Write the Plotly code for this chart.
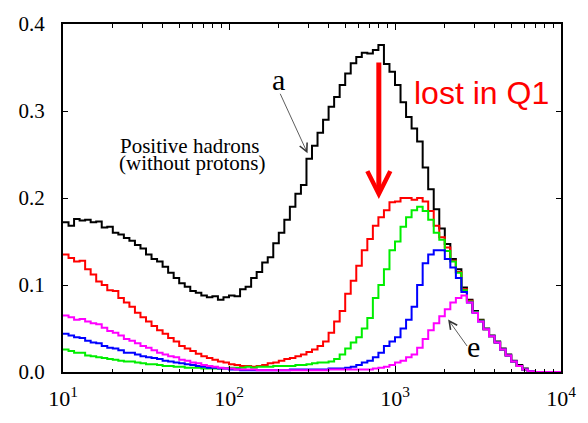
import numpy as np
import plotly.graph_objects as go

# ---------------- data ----------------
# 30 logarithmic bins per decade from 10^1 to 10^4
bin_edges = 10 ** np.linspace(1, 4, 91)

curve_a_black = [
    0.172, 0.168, 0.176, 0.174, 0.175, 0.172, 0.173, 0.166, 0.167, 0.160,
    0.158, 0.154, 0.151, 0.146, 0.142, 0.135, 0.130, 0.127, 0.121, 0.114,
    0.108, 0.102, 0.098, 0.093, 0.091, 0.088, 0.086, 0.087, 0.083, 0.086,
    0.088, 0.087, 0.095, 0.098, 0.108, 0.115, 0.126, 0.132, 0.148, 0.160,
    0.175, 0.190, 0.205, 0.215, 0.245, 0.260, 0.275, 0.290, 0.305, 0.316,
    0.330, 0.343, 0.355, 0.362, 0.367, 0.366, 0.370, 0.376, 0.354, 0.345,
    0.330, 0.310, 0.293, 0.280, 0.265, 0.235, 0.210, 0.187, 0.165, 0.147,
    0.130, 0.118, 0.097, 0.083, 0.070, 0.060, 0.050, 0.042, 0.035, 0.027,
    0.020, 0.013, 0.008, 0.004, 0.001, 0.0, 0.0, 0.0, 0.0, 0.0,
]
curve_b_red = [
    0.135, 0.131, 0.127, 0.128, 0.118, 0.112, 0.104, 0.100, 0.094, 0.093,
    0.085, 0.080, 0.075, 0.068, 0.063, 0.058, 0.053, 0.048, 0.044, 0.039,
    0.035, 0.030, 0.027, 0.024, 0.021, 0.018, 0.016, 0.014, 0.012, 0.011,
    0.009, 0.008, 0.007, 0.007, 0.006, 0.007, 0.008, 0.010, 0.011, 0.013,
    0.015, 0.016, 0.018, 0.020, 0.023, 0.026, 0.030, 0.035, 0.045, 0.058,
    0.070, 0.090, 0.105, 0.122, 0.140, 0.153, 0.168, 0.178, 0.186, 0.195,
    0.196, 0.200, 0.200, 0.198, 0.200, 0.196, 0.185, 0.168, 0.155, 0.143,
    0.128, 0.115, 0.095, 0.082, 0.069, 0.059, 0.049, 0.041, 0.034, 0.026,
    0.019, 0.012, 0.007, 0.003, 0.001, 0.0, 0.0, 0.0, 0.0, 0.0,
]
curve_c_green = [
    0.026, 0.024, 0.022, 0.022, 0.019, 0.018, 0.017, 0.016, 0.015, 0.014,
    0.013, 0.012, 0.012, 0.011, 0.010, 0.009, 0.009, 0.008, 0.007, 0.007,
    0.006, 0.006, 0.005, 0.005, 0.005, 0.004, 0.004, 0.004, 0.004, 0.004,
    0.005, 0.005, 0.005, 0.006, 0.005, 0.006, 0.006, 0.006, 0.007, 0.007,
    0.007, 0.007, 0.008, 0.008, 0.009, 0.010, 0.011, 0.011, 0.012, 0.015,
    0.020, 0.027, 0.034, 0.040, 0.050, 0.062, 0.085, 0.100, 0.118, 0.140,
    0.150, 0.167, 0.178, 0.186, 0.190, 0.185, 0.175, 0.160, 0.152, 0.139,
    0.127, 0.114, 0.094, 0.081, 0.069, 0.059, 0.049, 0.041, 0.034, 0.026,
    0.019, 0.012, 0.007, 0.003, 0.001, 0.0, 0.0, 0.0, 0.0, 0.0,
]
curve_d_blue = [
    0.044, 0.042, 0.040, 0.039, 0.036, 0.034, 0.033, 0.030, 0.028, 0.027,
    0.025, 0.022, 0.022, 0.020, 0.018, 0.017, 0.016, 0.015, 0.013, 0.012,
    0.011, 0.010, 0.009, 0.008, 0.007, 0.006, 0.005, 0.005, 0.004, 0.004,
    0.003, 0.003, 0.002, 0.002, 0.002, 0.002, 0.002, 0.002, 0.002, 0.002,
    0.002, 0.003, 0.003, 0.003, 0.003, 0.003, 0.003, 0.003, 0.004, 0.004,
    0.004, 0.005, 0.006, 0.008, 0.011, 0.013, 0.017, 0.022, 0.030, 0.035,
    0.040, 0.050, 0.060, 0.075, 0.100, 0.125, 0.135, 0.140, 0.140, 0.130,
    0.120, 0.108, 0.092, 0.080, 0.068, 0.058, 0.049, 0.041, 0.034, 0.026,
    0.019, 0.012, 0.007, 0.003, 0.001, 0.0, 0.0, 0.0, 0.0, 0.0,
]
curve_e_magenta = [
    0.065, 0.063, 0.060, 0.061, 0.058, 0.056, 0.055, 0.051, 0.047, 0.045,
    0.042, 0.038, 0.036, 0.033, 0.030, 0.028, 0.025, 0.022, 0.020, 0.018,
    0.017, 0.014, 0.013, 0.011, 0.010, 0.008, 0.007, 0.006, 0.005, 0.004,
    0.004, 0.003, 0.003, 0.003, 0.003, 0.002, 0.002, 0.002, 0.002, 0.002,
    0.002, 0.002, 0.002, 0.002, 0.002, 0.002, 0.002, 0.002, 0.003, 0.003,
    0.003, 0.003, 0.003, 0.003, 0.003, 0.003, 0.004, 0.005, 0.006, 0.008,
    0.011, 0.013, 0.017, 0.020, 0.028, 0.038, 0.048, 0.056, 0.064, 0.072,
    0.080, 0.085, 0.088, 0.080, 0.068, 0.058, 0.049, 0.041, 0.034, 0.026,
    0.019, 0.012, 0.007, 0.003, 0.001, 0.0, 0.0, 0.0, 0.0, 0.0,
]

series = [
    ("a", curve_a_black, "#000000"),
    ("b", curve_b_red, "#ff0000"),
    ("c", curve_c_green, "#00ee00"),
    ("d", curve_d_blue, "#0000ff"),
    ("e", curve_e_magenta, "#ff00ff"),
]

y_tick_vals = [0.0, 0.1, 0.2, 0.3, 0.4]
y_tick_text = ["0.0", "0.1", "0.2", "0.3", "0.4"]
x_tick_vals = [10, 100, 1000, 10000]
x_tick_text = ["10<sup>1</sup>", "10<sup>2</sup>", "10<sup>3</sup>", "10<sup>4</sup>"]

# ---------------- figure ----------------
fig = go.Figure()
for name, vals, color in series:
    fig.add_trace(go.Scatter(
        x=list(bin_edges),
        y=list(vals) + [vals[-1]],
        mode="lines",
        line=dict(shape="hv", color=color, width=2),
        name=name,
        showlegend=False,
        hoverinfo="skip",
    ))

serif = "Liberation Serif"

fig.update_layout(
    width=588, height=423,
    margin=dict(l=63, r=22, t=15, b=50),
    paper_bgcolor="white", plot_bgcolor="white",
    font=dict(family=serif, size=20, color="black"),
    xaxis=dict(
        type="log", range=[1, 4],
        tickvals=x_tick_vals, ticktext=x_tick_text,
        ticks="inside", ticklen=6, tickwidth=1, tickcolor="black",
        minor=dict(ticks="inside", ticklen=3.5, tickcolor="black", dtick="D1"),
        showline=True, linecolor="black", linewidth=2, mirror="ticks",
        showgrid=False, zeroline=False,
        tickfont=dict(family=serif, size=22),
        ticklabelstandoff=6,
    ),
    yaxis=dict(
        range=[0, 0.4],
        tickvals=y_tick_vals, ticktext=y_tick_text,
        ticks="inside", ticklen=5, tickwidth=1, tickcolor="black",
        showline=True, linecolor="black", linewidth=2, mirror="ticks",
        showgrid=False, zeroline=False,
        tickfont=dict(family=serif, size=21),
        ticklabelstandoff=12,
    ),
)

def px_to_paper(px, py):
    return (px - 63) / 503.0, (373 - py) / 358.0

annos = []
# text labels
for text, (px, py), size in [
    ("Positive hadrons", (119, 141), 21),
    ("(without protons)", (118, 158.5), 21),
]:
    x, y = px_to_paper(px, py)
    annos.append(dict(xref="paper", yref="paper", x=x, y=y, text=text,
                      showarrow=False, xanchor="left", yanchor="middle",
                      font=dict(family=serif, size=size, color="black")))

for text, (px, py) in [("a", (281, 72)), ("e", (478, 347))]:
    x, y = px_to_paper(px, py)
    annos.append(dict(xref="paper", yref="paper", x=x, y=y, text=text,
                      showarrow=False, xanchor="center", yanchor="middle",
                      font=dict(family=serif, size=30, color="black")))

x, y = px_to_paper(486, 86)
annos.append(dict(xref="paper", yref="paper", x=x, y=y, text="lost in Q1",
                  showarrow=False, xanchor="center", yanchor="middle",
                  font=dict(family="Liberation Sans", size=32, color="#ff0000")))

# thin pointer arrows
for (hx, hy), (tx, ty) in [((310, 148), (282, 87)), ((452, 319), (472, 347))]:
    x, y = px_to_paper(hx, hy)
    annos.append(dict(xref="paper", yref="paper", x=x, y=y, text="",
                      showarrow=True, ax=tx - hx, ay=ty - hy,
                      arrowhead=5, arrowsize=2, arrowwidth=0.8,
                      arrowcolor="#333333", standoff=0))

# big red arrow
x, y = px_to_paper(382, 195)
annos.append(dict(xref="paper", yref="paper", x=x, y=y, text="",
                  showarrow=True, ax=0, ay=57 - 195,
                  arrowhead=5, arrowsize=0.9, arrowwidth=5,
                  arrowcolor="#ff0000", standoff=0))

fig.update_layout(annotations=annos)

fig.write_html("out.html")
